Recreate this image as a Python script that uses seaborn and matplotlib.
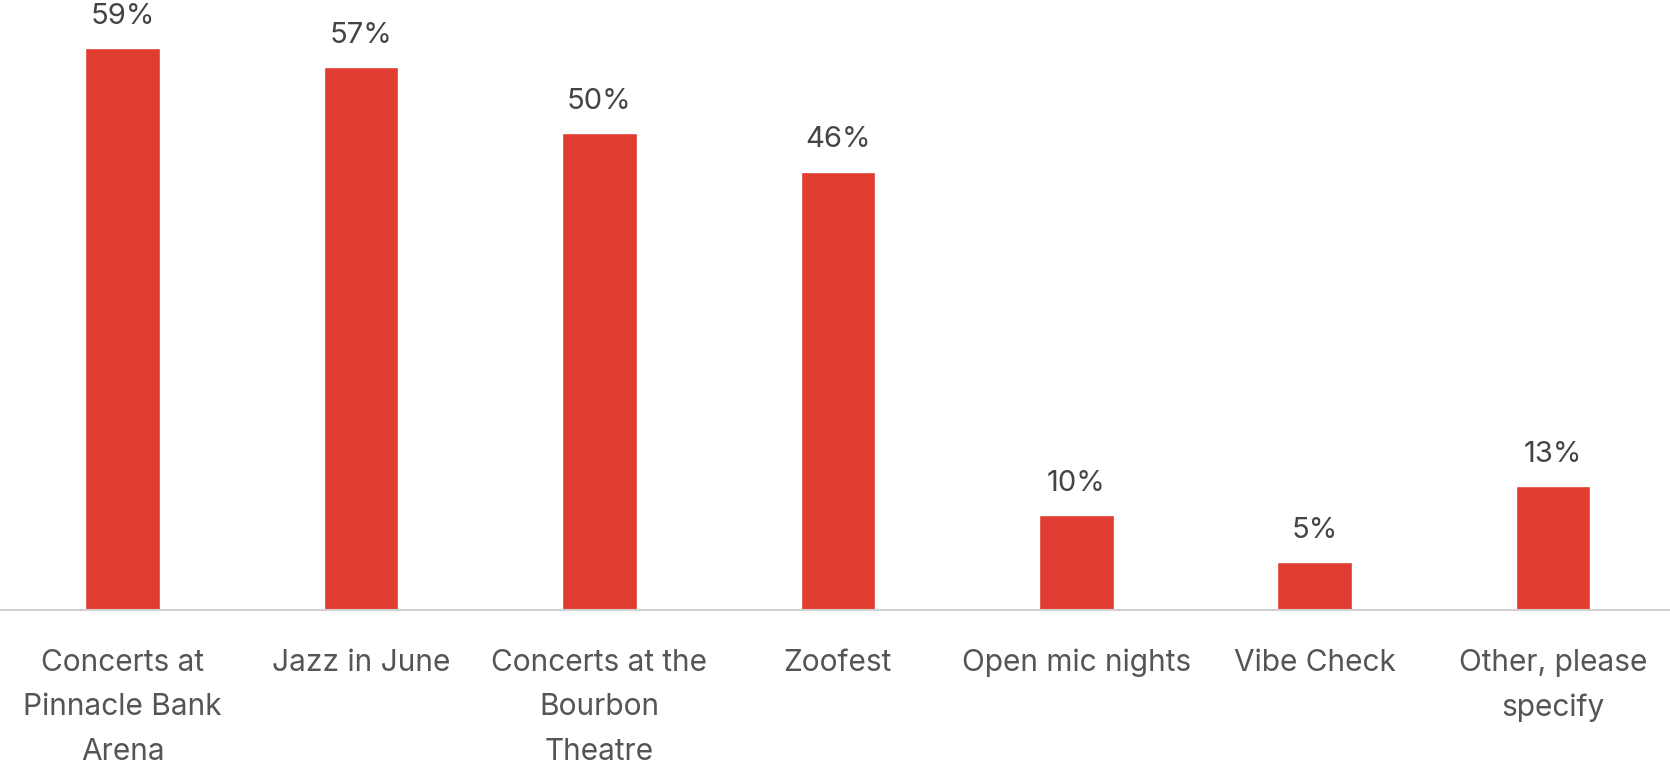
import numpy as np
import pandas as pd
import seaborn as sns
import matplotlib.pyplot as plt

# data
events = ['Concerts at\nPinnacle Bank\nArena', 'Jazz in June', 'Concerts at the\nBourbon\nTheatre',
          'Zoofest', 'Open mic nights', 'Vibe Check', 'Other, please\nspecify']
shares = [59, 57, 50, 46, 10, 5, 13]

df = pd.DataFrame({'event': events, 'share': shares})

sns.set_theme(style='white')
plt.rcParams['font.family'] = ['Inter', 'DejaVu Sans']

fig = plt.figure(figsize=(16.7, 7.66), dpi=100)
ax = fig.add_axes([0, 0.2037, 1, 0.7963])

sns.barplot(data=df, x='event', y='share', color='#E03C31', saturation=1, width=0.313, ax=ax)

ax.bar_label(ax.containers[0], labels=[f'{v}%' for v in shares], padding=13,
             fontsize=21, color='#444444')

ax.set_xlim(-0.514, 6.49)
ax.set_ylim(0, 64)
ax.set_xlabel('')
ax.set_ylabel('')
ax.set_yticks([])
ax.tick_params(axis='x', length=0, pad=28, labelsize=21.5, labelcolor='#555555')
for lbl in ax.get_xticklabels():
    lbl.set_linespacing(1.75)

for side in ['top', 'left', 'right']:
    ax.spines[side].set_visible(False)
ax.spines['bottom'].set_color('#d0d0d0')
ax.spines['bottom'].set_linewidth(1.5)

fig.savefig('out.png', dpi=100)
